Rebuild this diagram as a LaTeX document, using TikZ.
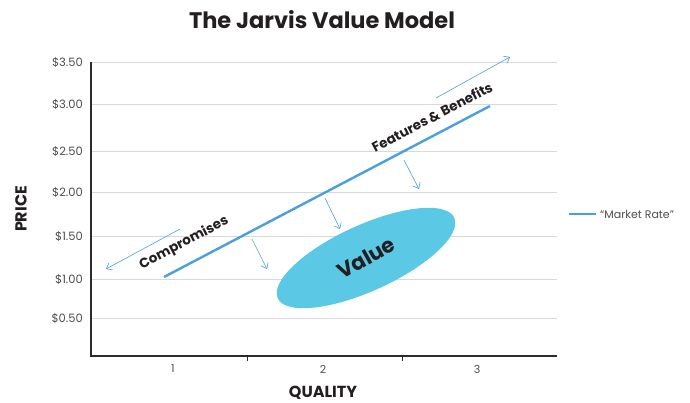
\documentclass[tikz,border=0pt]{standalone}
\usepackage{fontspec}
\setmainfont{Poppins}
\usetikzlibrary{arrows.meta}

\definecolor{rateblue}{HTML}{4A9FDC}
\definecolor{valueblue}{HTML}{5BC8E6}
\definecolor{gridgray}{HTML}{D9D9D9}
\definecolor{axisgray}{HTML}{2B2B2B}
\definecolor{inkgray}{HTML}{231F20}

\tikzset{
  gridline/.style={gridgray, line width=1pt},
  axisline/.style={axisgray, line width=1.3pt},
  pricelabel/.style={anchor=east, inner sep=0pt, text=inkgray!80,
    font=\fontsize{11.5}{13}\selectfont},
  qualitylabel/.style={inner sep=0pt, text=inkgray!80,
    font=\fontsize{11}{13}\selectfont},
  axistitle/.style={inner sep=0pt, text=inkgray, font=\bfseries\fontsize{16}{18}\selectfont},
  slopetext/.style={inner sep=0pt, text=inkgray, rotate=27.7,
    font=\bfseries\fontsize{13.5}{15}\selectfont},
  hint/.style={rateblue, line width=0.6pt, -{Straight Barb[length=5pt,width=8pt]}}
}

\begin{document}
\begin{tikzpicture}[x=1pt,y=-1pt]
  \useasboundingbox (0,0) rectangle (690,402);

  \node (title) [inner sep=0pt, text=inkgray, font=\bfseries\fontsize{22.5}{26}\selectfont]
    at (322,20) {The Jarvis Value Model};

  % horizontal grid, one line per price step
  \foreach \yy/\price in {62.5/3.50, 104/3.00, 151/2.50, 192/2.00, 236/1.50, 279/1.00, 318/0.50} {
    \draw [gridline] (91,\yy) -- (557,\yy);
    \node [pricelabel] at (83,\yy) {\$\price};
  }

  % axes
  \coordinate (Origin) at (91,356);
  \coordinate (ytop) at (91,62);
  \coordinate (xend) at (557,356);
  \draw [axisline] (ytop) -- (Origin) -- (xend);
  \draw [axisline, line width=0.8pt] (247,356) -- (247,361);
  \draw [axisline, line width=0.8pt] (402,356) -- (402,361);

  \node (q1) [qualitylabel] at (173,369) {1};
  \node (q2) [qualitylabel] at (323,369) {2};
  \node (q3) [qualitylabel] at (477,369) {3};

  \node (price) [axistitle, rotate=90] at (21,209) {PRICE};
  \node (quality) [axistitle] at (323,393) {QUALITY};

  % the value zone
  \fill [valueblue, rotate around={24.5:(366,258)}] (366,258) ellipse [x radius=97, y radius=33];
  \node (value) [inner sep=0pt, text=inkgray, rotate=29,
    font=\bfseries\fontsize{21}{24}\selectfont] at (366,258) {Value};

  % market rate
  \coordinate (rate0) at (164,277);
  \coordinate (rate1) at (490,106);
  \draw [rateblue, line width=2.4pt] (rate0) -- (rate1);

  \node (features) [slopetext] at (432,117) {Features \& Benefits};
  \node (compromises) [slopetext] at (184,243) {Compromises};

  \coordinate (up0) at (436,98);
  \coordinate (up1) at (510,57);
  \coordinate (back0) at (180,229);
  \coordinate (back1) at (106,269);
  \draw [hint] (up0) -- (up1);
  \draw [hint] (back0) -- (back1);

  \coordinate (dropA0) at (252,239);
  \coordinate (dropA1) at (267,269);
  \coordinate (dropB0) at (325,198);
  \coordinate (dropB1) at (340,229);
  \coordinate (dropC0) at (404,160);
  \coordinate (dropC1) at (419,189);
  \draw [hint] (dropA0) -- (dropA1);
  \draw [hint] (dropB0) -- (dropB1);
  \draw [hint] (dropC0) -- (dropC1);

  % legend
  \coordinate (key0) at (569,214);
  \coordinate (key1) at (596,214);
  \draw [rateblue, line width=2.4pt] (key0) -- (key1);
  \node (keytext) [anchor=west, inner sep=0pt, text=inkgray!80,
    font=\fontsize{11}{13}\selectfont] at (600,214) {“Market Rate”};
\end{tikzpicture}
\end{document}
